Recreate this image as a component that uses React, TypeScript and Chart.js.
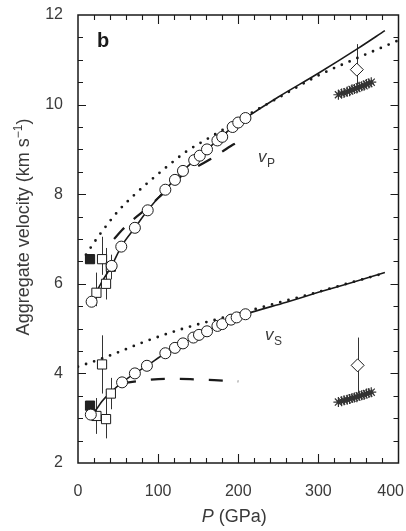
import React, { useEffect, useRef } from 'react';
import { Chart, registerables } from 'chart.js';

Chart.register(...registerables);

// ---------- data (P in GPa, velocity in km/s) ----------
const xTicks = [0, 100, 200, 300, 400];
const yTicks = [2, 4, 6, 8, 10, 12];

// vP open circles
const vpCircleP = [17, 42, 54, 71, 87, 109, 121, 131, 145, 152, 161, 174, 180, 193, 200, 209];
const vpCircleV = [5.6, 6.4, 6.83, 7.25, 7.64, 8.1, 8.32, 8.52, 8.76, 8.86, 9.0, 9.2, 9.28, 9.5, 9.6, 9.7];
// vS open circles
const vsCircleP = [16, 55, 71, 86, 109, 121, 131, 144, 151, 161, 174, 180, 191, 198, 209];
const vsCircleV = [3.08, 3.8, 4.0, 4.17, 4.45, 4.57, 4.67, 4.8, 4.86, 4.94, 5.06, 5.1, 5.2, 5.25, 5.32];

// open squares with error bars
const vpSquareP = [23, 30, 35, 41];
const vpSquareV = [5.8, 6.55, 6.0, 6.38];
const vpSquareLo = [5.5, 6.2, 5.65, 6.1];
const vpSquareHi = [6.25, 7.05, 6.8, 6.65];
const vsSquareP = [23, 30, 35, 41];
const vsSquareV = [3.05, 4.2, 2.98, 3.55];
const vsSquareLo = [2.65, 3.55, 2.55, 3.2];
const vsSquareHi = [3.45, 4.85, 3.6, 3.9];

// filled squares
const filledP = [15, 15];
const filledV = [6.55, 3.28];

// diamonds with error bars
const diamondP = [348, 349];
const diamondV = [10.78, 4.18];
const diamondLo = [10.45, 3.55];
const diamondHi = [11.35, 4.8];

// star clusters
const vpStarP = [325, 329, 332, 336, 339, 342, 345, 348, 351, 354, 357, 360, 363, 366];
const vpStarV = [10.22, 10.25, 10.26, 10.29, 10.3, 10.34, 10.35, 10.36, 10.4, 10.41, 10.42, 10.46, 10.47, 10.5];
const vsStarP = [325, 329, 332, 336, 339, 342, 345, 348, 351, 354, 357, 360, 363, 366];
const vsStarV = [3.36, 3.38, 3.4, 3.41, 3.43, 3.45, 3.46, 3.47, 3.5, 3.51, 3.52, 3.55, 3.56, 3.58];

// curves
const vpSolidP = [17, 23, 30, 42, 54, 71, 87, 109, 131, 152, 174, 193, 209, 250, 300, 350, 383];
const vpSolidV = [5.6, 5.82, 6.05, 6.4, 6.83, 7.25, 7.64, 8.1, 8.52, 8.86, 9.2, 9.5, 9.7, 10.17, 10.7, 11.26, 11.65];
const vpDotP = [10, 20, 30, 50, 70, 90, 110, 135, 160, 180, 200, 220, 250, 300, 350, 398];
const vpDotV = [6.65, 6.92, 7.17, 7.62, 7.98, 8.3, 8.6, 8.95, 9.22, 9.43, 9.63, 9.85, 10.15, 10.65, 11.05, 11.42];
const vpDashP = [45, 55, 68, 87, 104, 120, 135, 150, 165, 180, 195, 206];
const vpDashV = [7.0, 7.2, 7.42, 7.7, 7.98, 8.25, 8.5, 8.63, 8.78, 8.95, 9.12, 9.2];

const vsSolidP = [16, 23, 30, 41, 55, 71, 86, 109, 131, 151, 174, 191, 209, 260, 300, 340, 383];
const vsSolidV = [3.08, 3.2, 3.38, 3.58, 3.8, 4.0, 4.17, 4.45, 4.67, 4.86, 5.06, 5.2, 5.32, 5.59, 5.81, 6.02, 6.25];
const vsDotP = [0, 25, 50, 85, 135, 193, 234, 296, 337, 383];
const vsDotV = [4.15, 4.3, 4.47, 4.72, 5.02, 5.3, 5.5, 5.8, 6.01, 6.24];
const vsDashP = [55, 80, 110, 140, 170, 200];
const vsDashV = [3.78, 3.84, 3.88, 3.87, 3.85, 3.82];

const pts = (xs: number[], ys: number[]) => xs.map((x, i) => ({ x, y: ys[i] }));

const FONT = "'Liberation Sans', Arial, Helvetica, sans-serif";
const INK = '#1a1a1a';
const TEXT = '#3a3a3a';

const errorBars = {
  id: 'errorBars',
  beforeDatasetsDraw(chart: any) {
    const { ctx, scales } = chart;
    const x = scales.x, y = scales.y;
    ctx.save();
    ctx.strokeStyle = '#333';
    ctx.lineWidth = 1;
    const draw = (ps: number[], lo: number[], hi: number[]) => {
      ps.forEach((p, i) => {
        const px = Math.round(x.getPixelForValue(p)) + 0.5;
        ctx.beginPath();
        ctx.moveTo(px, y.getPixelForValue(lo[i]));
        ctx.lineTo(px, y.getPixelForValue(hi[i]));
        ctx.stroke();
      });
    };
    draw(vpSquareP, vpSquareLo, vpSquareHi);
    draw(vsSquareP, vsSquareLo, vsSquareHi);
    draw(diamondP, diamondLo, diamondHi);
    ctx.restore();
  },
};

const frame = {
  id: 'frame',
  afterDatasetsDraw(chart: any) {
    const { ctx, chartArea, scales } = chart;
    const { left, right, top, bottom } = chartArea;
    const x = scales.x, y = scales.y;
    ctx.save();
    ctx.strokeStyle = INK;
    ctx.lineWidth = 1.5;
    ctx.strokeRect(left, top, right - left, bottom - top);
    ctx.lineWidth = 1.1;
    ctx.beginPath();
    for (let p = 20; p < 400; p += 20) {
      const px = Math.round(x.getPixelForValue(p)) + 0.5;
      const len = p % 100 === 0 ? 9 : 5;
      ctx.moveTo(px, bottom);
      ctx.lineTo(px, bottom - len);
      ctx.moveTo(px, top);
      ctx.lineTo(px, top + len);
    }
    for (let v = 2.5; v < 12; v += 0.5) {
      const py = Math.round(y.getPixelForValue(v)) + 0.5;
      const len = v % 2 === 0 ? 8 : 5;
      ctx.moveTo(left, py);
      ctx.lineTo(left + len, py);
      ctx.moveTo(right, py);
      ctx.lineTo(right - len, py);
    }
    ctx.stroke();
    ctx.restore();
  },
};

const labels = {
  id: 'labels',
  afterDraw(chart: any) {
    const { ctx, chartArea, scales } = chart;
    ctx.save();
    // x tick labels (kept inside the canvas)
    ctx.fillStyle = TEXT;
    ctx.font = `16px ${FONT}`;
    ctx.textBaseline = 'middle';
    ctx.textAlign = 'center';
    xTicks.forEach((v) => {
      const t = String(v);
      const w = ctx.measureText(t).width;
      const px = Math.min(scales.x.getPixelForValue(v), chart.width - w / 2 - 2);
      ctx.fillText(t, px, 492);
    });

    ctx.fillStyle = INK;
    // panel letter
    ctx.font = `bold 20px ${FONT}`;
    ctx.textBaseline = 'alphabetic';
    ctx.textAlign = 'left';
    ctx.fillText('b', 97, 47);
    // vP
    ctx.fillStyle = TEXT;
    ctx.font = `italic 17px ${FONT}`;
    ctx.fillText('v', 258, 162);
    ctx.font = `12px ${FONT}`;
    ctx.fillText('P', 267, 167);
    // vS
    ctx.font = `italic 17px ${FONT}`;
    ctx.fillText('v', 265, 340);
    ctx.font = `12px ${FONT}`;
    ctx.fillText('S', 274, 345);

    // x title: P (GPa)
    const cx = (chartArea.left + chartArea.right) / 2 - 4;
    ctx.font = `italic 18px ${FONT}`;
    const wP = ctx.measureText('P').width;
    ctx.font = `18px ${FONT}`;
    const wRest = ctx.measureText(' (GPa)').width;
    const sx = cx - (wP + wRest) / 2;
    ctx.font = `italic 18px ${FONT}`;
    ctx.fillText('P', sx, 522);
    ctx.font = `18px ${FONT}`;
    ctx.fillText(' (GPa)', sx + wP, 522);

    // y title
    ctx.translate(29, 227);
    ctx.rotate(-Math.PI / 2);
    ctx.font = `18px ${FONT}`;
    const a = 'Aggregate velocity (km s';
    const wa = ctx.measureText(a).width;
    ctx.font = `12px ${FONT}`;
    const sup = '\u22121';
    const ws = ctx.measureText(sup).width;
    ctx.font = `18px ${FONT}`;
    const wc = ctx.measureText(')').width;
    const tx = -(wa + ws + wc) / 2;
    ctx.fillText(a, tx, 0);
    ctx.font = `12px ${FONT}`;
    ctx.fillText(sup, tx + wa, -7);
    ctx.font = `18px ${FONT}`;
    ctx.fillText(')', tx + wa + ws, 0);
    ctx.restore();
  },
};

export default function App() {
  const ref = useRef<HTMLCanvasElement | null>(null);
  useEffect(() => {
    if (!ref.current) return;
    const marker = (data: any, style: any, extra: any = {}) => ({
      type: 'scatter',
      data,
      showLine: false,
      pointStyle: style,
      pointBackgroundColor: '#fff',
      pointBorderColor: INK,
      pointBorderWidth: 1,
      order: 0,
      ...extra,
    });
    const line = (data: any, dash: number[], width: number, extra: any = {}) => ({
      type: 'scatter',
      data,
      showLine: true,
      pointRadius: 0,
      borderColor: INK,
      borderWidth: width,
      borderDash: dash,
      cubicInterpolationMode: 'monotone',
      fill: false,
      order: 2,
      ...extra,
    });
    const chart = new Chart(ref.current, {
      type: 'scatter',
      data: {
        datasets: [
          marker(pts(vpCircleP, vpCircleV), 'circle', { pointRadius: 5.5 }),
          marker(pts(vsCircleP, vsCircleV), 'circle', { pointRadius: 5.5 }),
          marker(pts(vpSquareP, vpSquareV), 'rect', { pointRadius: 6.5 }),
          marker(pts(vsSquareP, vsSquareV), 'rect', { pointRadius: 6.5 }),
          marker(pts(filledP, filledV), 'rect', { pointRadius: 6.5, pointBackgroundColor: '#222' }),
          marker(pts(diamondP, diamondV), 'rectRot', { pointRadius: 6.5 }),
          marker(pts(vpStarP, vpStarV), 'star', { pointRadius: 5, pointBorderWidth: 1.2, pointBorderColor: '#333' }),
          marker(pts(vsStarP, vsStarV), 'star', { pointRadius: 5, pointBorderWidth: 1.2, pointBorderColor: '#333' }),
          line(pts(vpSolidP, vpSolidV), [], 1.6),
          line(pts(vsSolidP, vsSolidV), [], 1.6),
          line(pts(vpDotP, vpDotV), [0, 8.5], 2.8, { borderCapStyle: 'round' }),
          line(pts(vsDotP, vsDotV), [0, 8.5], 2.8, { borderCapStyle: 'round' }),
          line(pts(vpDashP, vpDashV), [15, 13], 2.2),
          line(pts(vsDashP, vsDashV), [14, 15], 2.2),
        ] as any,
      },
      options: {
        responsive: false,
        animation: false,
        devicePixelRatio: 1,
        layout: { padding: { top: 15, right: 5, left: 0, bottom: 0 } },
        plugins: { legend: { display: false }, tooltip: { enabled: false } },
        scales: {
          x: {
            type: 'linear',
            min: 0,
            max: 400,
            afterFit: (s: any) => { s.height = 68; s.paddingLeft = 0; s.paddingRight = 0; },
            afterBuildTicks: (s: any) => { s.ticks = xTicks.map((v) => ({ value: v })); },
            ticks: { display: false },
            grid: { display: false, drawTicks: false },
            border: { display: false },
          },
          y: {
            type: 'linear',
            min: 2,
            max: 12,
            afterFit: (s: any) => { s.width = 78; s.paddingTop = 0; s.paddingBottom = 0; },
            afterBuildTicks: (s: any) => { s.ticks = yTicks.map((v) => ({ value: v })); },
            ticks: { font: { size: 16, family: FONT }, color: TEXT, padding: 15 },
            grid: { display: false, drawTicks: false },
            border: { display: false },
          },
        },
      } as any,
      plugins: [errorBars, frame, labels],
    });
    return () => chart.destroy();
  }, []);
  return (
    <div style={{ position: 'absolute', left: 0, top: 0, width: 406, height: 531, background: '#fff' }}>
      <canvas ref={ref} width={406} height={531} style={{ display: 'block' }} />
    </div>
  );
}
